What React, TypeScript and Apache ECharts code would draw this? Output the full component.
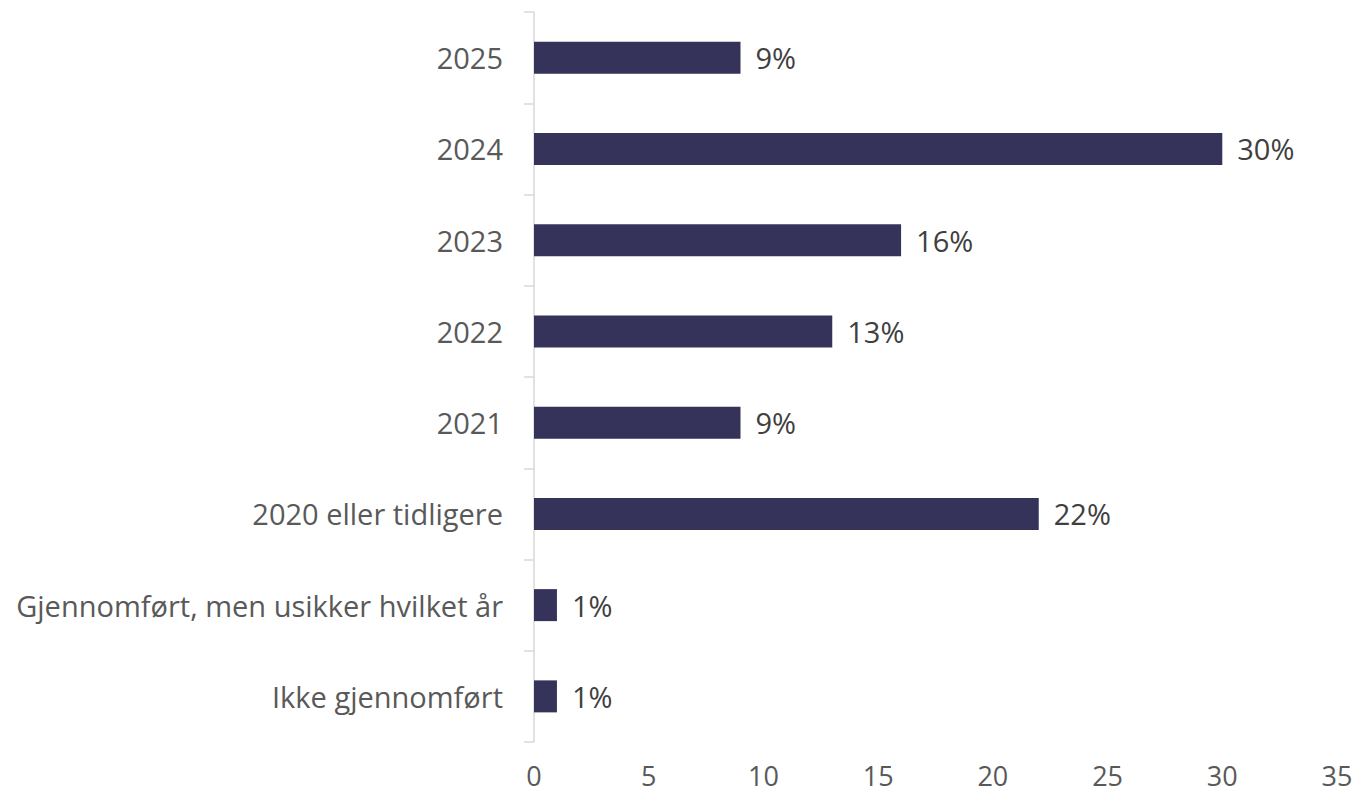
import React, { useEffect, useRef } from "react";
import * as echarts from "echarts";

const categories = [
  "2025",
  "2024",
  "2023",
  "2022",
  "2021",
  "2020 eller tidligere",
  "Gjennomført, men usikker hvilket år",
  "Ikke gjennomført",
];
const values = [9, 30, 16, 13, 9, 22, 1, 1];
const xTicks = [0, 5, 10, 15, 20, 25, 30, 35];

const FONT = "'Open Sans', 'DejaVu Sans', sans-serif";

export default function App() {
  const ref = useRef<HTMLDivElement>(null);
  useEffect(() => {
    if (!ref.current) return;
    const chart = echarts.init(ref.current, null, { renderer: "svg" });
    chart.setOption({
      animation: false,
      backgroundColor: "#ffffff",
      textStyle: { fontFamily: FONT },
      grid: { left: 534, right: 23, top: 12, bottom: 54, containLabel: false },
      xAxis: {
        type: "value",
        min: xTicks[0],
        max: xTicks[xTicks.length - 1],
        interval: 5,
        axisLine: { show: false },
        axisTick: { show: false },
        splitLine: { show: false },
        axisLabel: {
          color: "#595959",
          fontSize: 27,
          lineHeight: 28,
          margin: 19,
          fontFamily: FONT,
        },
      },
      yAxis: {
        type: "category",
        data: categories,
        inverse: true,
        axisLine: { show: true, lineStyle: { color: "#d9d9d9", width: 1.5 } },
        axisTick: { show: true, length: 10, alignWithLabel: false, lineStyle: { color: "#d9d9d9", width: 1.5 } },
        axisLabel: {
          color: "#595959",
          fontSize: 29,
          lineHeight: 30,
          margin: 31,
          fontFamily: FONT,
        },
      },
      series: [
        {
          type: "bar",
          data: values,
          barWidth: 32,
          itemStyle: { color: "#35335a" },
          label: {
            show: true,
            position: "right",
            distance: 15,
            formatter: "{c}%",
            color: "#404040",
            fontSize: 29,
            lineHeight: 30,
            fontFamily: FONT,
          },
        },
      ],
    });
    return () => chart.dispose();
  }, []);
  return (
    <div
      ref={ref}
      style={{ position: "fixed", left: 0, top: 0, width: 1360, height: 796 }}
    />
  );
}
